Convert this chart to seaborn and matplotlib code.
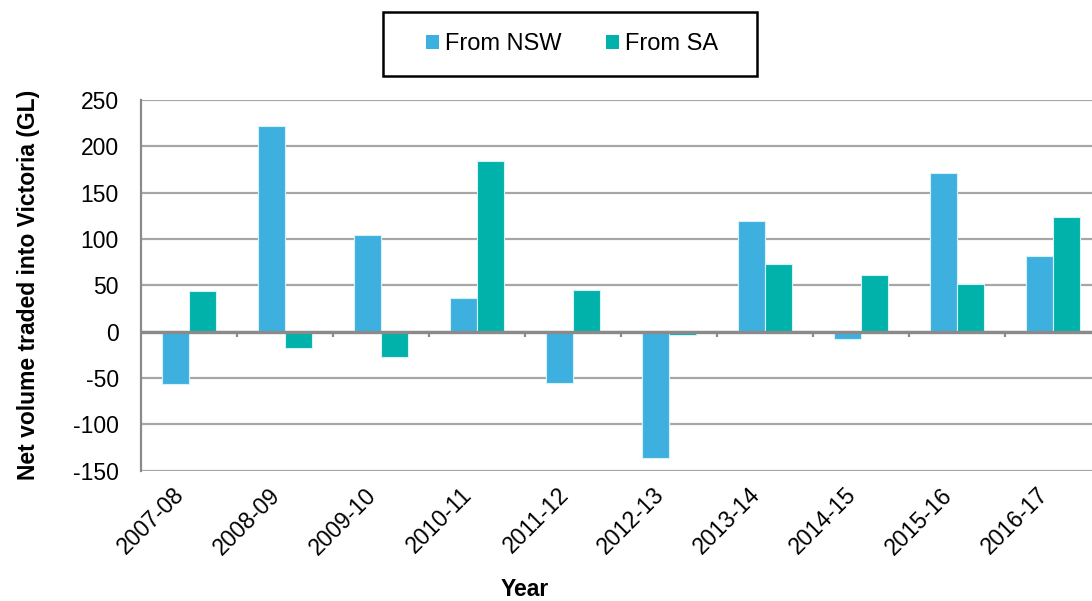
import numpy as np
import pandas as pd
import matplotlib
matplotlib.use("Agg")
import matplotlib.pyplot as plt
from matplotlib.patches import Rectangle
import seaborn as sns

# ---- data (GL) ----
years = ["2007-08", "2008-09", "2009-10", "2010-11", "2011-12",
         "2012-13", "2013-14", "2014-15", "2015-16", "2016-17"]
from_nsw = [-57, 222, 104, 36, -55, -136, 119, -8, 171, 82]
from_sa = [44, -18, -28, 184, 45, -4, 73, 61, 51, 124]
series_names = ["From NSW", "From SA"]
series_colors = ["#3DB0DF", "#00B2A9"]
y_ticks = [-150, -100, -50, 0, 50, 100, 150, 200, 250]

df = pd.DataFrame({
    "Year": years * 2,
    "Volume": from_nsw + from_sa,
    "Series": [series_names[0]] * len(years) + [series_names[1]] * len(years),
})

sns.set_style("white")
plt.rcParams['font.family'] = ['Liberation Sans', 'DejaVu Sans']
plt.rcParams['axes.unicode_minus'] = False
plt.rcParams['text.color'] = 'black'
plt.rcParams['axes.labelcolor'] = 'black'
plt.rcParams['xtick.color'] = 'black'
plt.rcParams['ytick.color'] = 'black'

fig = plt.figure(figsize=(10.92, 6.01), dpi=100)
ax = fig.add_axes([141 / 1092, 1 - 470.5 / 601, 960 / 1092, 370.5 / 601])

sns.barplot(data=df, x="Year", y="Volume", hue="Series", palette=series_colors,
            saturation=1, width=0.57, edgecolor="#D8F0F8", linewidth=0.8,
            ax=ax, legend=True)

ax.set_ylim(-150, 250)
ax.set_xlim(-0.5, len(years) - 0.5)
ax.set_yticks(y_ticks)
ax.yaxis.grid(True, color="#A6A6A6", linewidth=1.6)
ax.set_axisbelow(True)
ax.axhline(0, color="#8A8A8A", linewidth=2.4, zorder=3)

for s in ["top", "right", "bottom"]:
    ax.spines[s].set_visible(False)
ax.spines["left"].set_color("#8A8A8A")
ax.spines["left"].set_linewidth(1.6)

ax.tick_params(axis="y", length=6, width=1.6, color="#8A8A8A", labelsize=16.5,
               labelcolor="black", pad=10)
ax.tick_params(axis="x", length=0, labelsize=16.5, labelcolor="black", pad=21)
plt.setp(ax.get_xticklabels(), rotation=45, ha="right", va="bottom",
         rotation_mode="anchor")

# category-boundary tick marks hanging below the zero line
bounds = np.arange(len(years)) + 0.5
ax.vlines(bounds, -5.5, 0, color="#8A8A8A", linewidth=1.6, zorder=3)

ax.set_ylabel("Net volume traded into Victoria (GL)", fontsize=16.5, fontweight="bold")
ax.yaxis.label.set_va("center")
ax.yaxis.set_label_coords(-0.1177, 0.5)
ax.set_xlabel("Year", fontsize=16.5, fontweight="bold")
ax.xaxis.label.set_va("center")
ax.xaxis.set_label_coords(0.4, -0.322)

leg = ax.legend(loc="center", bbox_to_anchor=(572 / 1092, 1 - 44 / 601),
                bbox_transform=fig.transFigure, ncol=2, frameon=False,
                fontsize=17, handlelength=0.55, handleheight=0.55,
                handletextpad=0.25, columnspacing=1.9, borderpad=0,
                borderaxespad=0)
for h in leg.legend_handles:
    h.set_edgecolor("none")

# legend box
fig.patches.append(Rectangle((383 / 1092, 1 - 76 / 601), 374 / 1092, 64 / 601,
                             transform=fig.transFigure, fill=False,
                             edgecolor="black", linewidth=1.8))

fig.savefig("out.png", dpi=100)
